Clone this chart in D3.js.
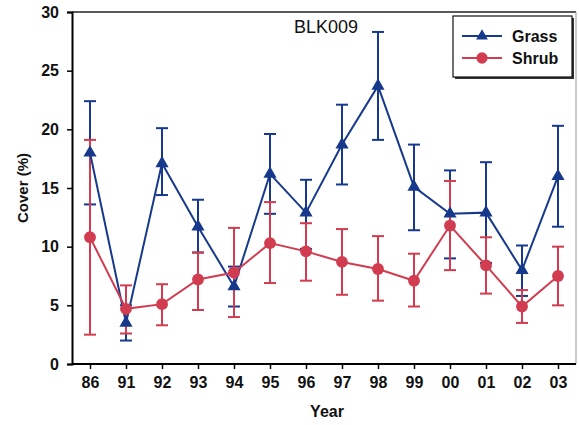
<!DOCTYPE html>
<html>
<head>
<meta charset="utf-8">
<script src="https://cdn.jsdelivr.net/npm/d3@7"></script>
<style>
  body { margin: 0; background: #fff; }
  svg { display: block; font-family: "Liberation Sans", Arial, sans-serif; }
</style>
</head>
<body>
<svg id="chart"></svg>
<script>
// years on the x axis
var years = ['86', '91', '92', '93', '94', '95', '96', '97', '98', '99', '00', '01', '02', '03']

// grass cover (%) with error bar ends
var grass = [18.0, 3.5, 17.1, 11.7, 6.6, 16.2, 12.9, 18.7, 23.7, 15.1, 12.8, 12.9, 8.0, 16.0]
var grassHi = [22.4, 5.0, 20.1, 14.0, 8.3, 19.6, 15.7, 22.1, 28.3, 18.7, 16.5, 17.2, 10.1, 20.3]
var grassLo = [13.6, 2.0, 14.4, 9.5, 4.9, 12.8, 9.8, 15.3, 19.1, 11.4, 9.0, 8.6, 5.8, 11.7]

// shrub cover (%) with error bar ends
var shrub = [10.8, 4.7, 5.1, 7.2, 7.8, 10.3, 9.6, 8.7, 8.1, 7.1, 11.8, 8.4, 4.9, 7.5]
var shrubHi = [19.1, 6.7, 6.8, 9.5, 11.6, 13.8, 12.0, 11.5, 10.9, 9.4, 15.6, 10.8, 6.3, 10.0]
var shrubLo = [2.5, 2.6, 3.3, 4.6, 4.0, 6.9, 7.1, 5.9, 5.4, 4.9, 8.0, 6.0, 3.5, 5.0]

var yTicks = [0, 5, 10, 15, 20, 25, 30]

var width = 579, height = 425
var margin = { top: 12, right: 3, bottom: 61, left: 72 }
var blue = '#17398c', red = '#d23c50'

var svg = d3.select('#chart')
    .attr('width', width)
    .attr('height', height)

var x = d3.scalePoint()
    .domain(years)
    .range([margin.left, width - margin.right])
    .padding(0.5)

var y = d3.scaleLinear()
    .domain([0, 30])
    .range([height - margin.bottom, margin.top])

// frame
svg.append('line')
    .attr('x1', margin.left).attr('x2', width - margin.right)
    .attr('y1', margin.top).attr('y2', margin.top)
    .attr('stroke', '#222').attr('stroke-width', 1.5)
svg.append('line')
    .attr('x1', width - margin.right).attr('x2', width - margin.right)
    .attr('y1', margin.top).attr('y2', height - margin.bottom)
    .attr('stroke', '#999').attr('stroke-width', 1)

var xAxis = svg.append('g')
    .attr('transform', 'translate(0,' + (height - margin.bottom) + ')')
    .call(d3.axisBottom(x).tickSizeOuter(0).tickSize(5).tickPadding(8))
xAxis.select('.domain').attr('stroke-width', 2).attr('d', 'M' + margin.left + ',0H' + (width - margin.right))
xAxis.selectAll('.tick line').attr('stroke-width', 1.5)
xAxis.selectAll('text').attr('font-size', 16).attr('font-weight', 'bold').attr('fill', '#111')

var yAxis = svg.append('g')
    .attr('transform', 'translate(' + margin.left + ',0)')
    .call(d3.axisLeft(y).tickValues(yTicks).tickSizeOuter(0).tickSize(5).tickPadding(8))
yAxis.select('.domain').attr('stroke-width', 2)
yAxis.selectAll('.tick line').attr('stroke-width', 1.5)
yAxis.selectAll('text').attr('font-size', 16).attr('font-weight', 'bold').attr('fill', '#111')

svg.append('text')
    .attr('x', (margin.left + width - margin.right) / 2 + 3)
    .attr('y', 417)
    .attr('text-anchor', 'middle')
    .attr('font-size', 16).attr('font-weight', 'bold').attr('fill', '#111')
    .text('Year')

svg.append('text')
    .attr('transform', 'translate(28,' + (margin.top + height - margin.bottom) / 2 + ') rotate(-90)')
    .attr('text-anchor', 'middle')
    .attr('font-size', 15).attr('font-weight', 'bold').attr('fill', '#111')
    .text('Cover (%)')

svg.append('text')
    .attr('x', 326).attr('y', 33)
    .attr('text-anchor', 'middle')
    .attr('font-size', 18).attr('fill', '#111')
    .text('BLK009')

function errorBars(vals, hi, lo, color) {
    var g = svg.append('g').attr('stroke', color).attr('stroke-width', 2).attr('fill', 'none')
    var bar = g.selectAll('g').data(vals).enter().append('g')
    bar.append('line')
        .attr('x1', (d, i) => x(years[i])).attr('x2', (d, i) => x(years[i]))
        .attr('y1', (d, i) => y(hi[i])).attr('y2', (d, i) => y(lo[i]))
    bar.append('line')
        .attr('x1', (d, i) => x(years[i]) - 6).attr('x2', (d, i) => x(years[i]) + 6)
        .attr('y1', (d, i) => y(hi[i])).attr('y2', (d, i) => y(hi[i]))
    bar.append('line')
        .attr('x1', (d, i) => x(years[i]) - 6).attr('x2', (d, i) => x(years[i]) + 6)
        .attr('y1', (d, i) => y(lo[i])).attr('y2', (d, i) => y(lo[i]))
}

function series(vals, color, symbol, size) {
    var line = d3.line()
        .x((d, i) => x(years[i]))
        .y(d => y(d))
    svg.append('path')
        .datum(vals)
        .attr('d', line)
        .attr('fill', 'none')
        .attr('stroke', color)
        .attr('stroke-width', 2)
    svg.append('g').selectAll('path')
        .data(vals)
        .enter().append('path')
        .attr('transform', (d, i) => 'translate(' + x(years[i]) + ',' + y(d) + ')')
        .attr('d', d3.symbol().type(symbol).size(size))
        .attr('fill', color)
}

errorBars(grass, grassHi, grassLo, blue)
errorBars(shrub, shrubHi, shrubLo, red)
series(grass, blue, d3.symbolTriangle, 75)
series(shrub, red, d3.symbolCircle, 110)

// legend
var lg = svg.append('g').attr('transform', 'translate(453,16)')
lg.append('rect').attr('x', 2).attr('y', 2).attr('width', 119).attr('height', 61).attr('fill', '#333')
lg.append('rect').attr('width', 119).attr('height', 61).attr('fill', '#fff').attr('stroke', '#111').attr('stroke-width', 1.2)
var items = [['Grass', blue, d3.symbolTriangle, 60], ['Shrub', red, d3.symbolCircle, 100]]
items.forEach(function(it, i) {
    var ly = 20 + i * 22
    lg.append('line').attr('x1', 9).attr('x2', 49).attr('y1', ly).attr('y2', ly)
        .attr('stroke', it[1]).attr('stroke-width', 2)
    lg.append('path').attr('transform', 'translate(29,' + ly + ')')
        .attr('d', d3.symbol().type(it[2]).size(it[3])).attr('fill', it[1])
    lg.append('text').attr('x', 59).attr('y', ly + 6)
        .attr('font-size', 16).attr('font-weight', 'bold').attr('fill', '#111')
        .text(it[0])
})
</script>
</body>
</html>
